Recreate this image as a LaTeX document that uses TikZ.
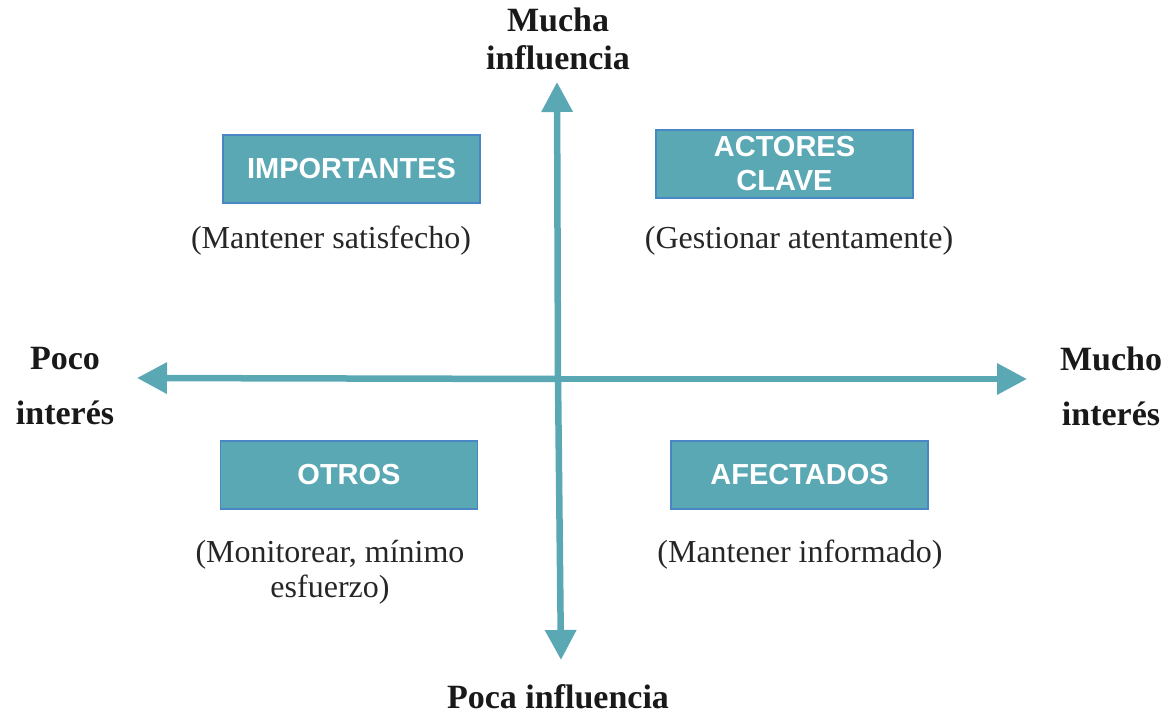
\documentclass[tikz,border=0pt]{standalone}
\usepackage{fontspec}
\setmainfont{Liberation Serif}
\newfontfamily\boxfont{Liberation Sans}
\usetikzlibrary{arrows.meta}
\definecolor{teal}{HTML}{5BA8B5}
\definecolor{edge}{HTML}{4A86C5}
\begin{document}
\begin{tikzpicture}[x=1pt,y=-1pt,
  quad/.style={draw=edge,line width=1.5pt,fill=teal,minimum width=257pt,minimum height=68pt,
    text=white,font=\boxfont\bfseries\fontsize{29}{34}\selectfont,align=center,inner sep=0pt},
  note/.style={font=\fontsize{32}{35}\selectfont,align=center,text=black!85},
  axlab/.style={font=\bfseries\fontsize{34}{38}\selectfont,align=center,text=black!90},
  axis/.style={draw=teal,line width=6.5pt,-{Triangle[length=30pt,width=30pt]}}]
\useasboundingbox (0,0) rectangle (1172,714);
\coordinate (c) at (558,379);
\coordinate (top) at (557,82);
\coordinate (bot) at (561,660);
\coordinate (lft) at (137,378);
\coordinate (rgt) at (1027,379);
\draw[axis] (c) -- (top);
\draw[axis] (c) -- (bot);
\draw[axis] (c) -- (lft);
\draw[axis] (c) -- (rgt);
\node[quad] (imp) at (351.5,169) {IMPORTANTES};
\node[quad] (act) at (784.5,164) {ACTORES\\CLAVE};
\node[quad] (otr) at (349,475) {OTROS};
\node[quad] (afe) at (799.5,475) {AFECTADOS};
\node[note] (n1) at (331,241) {(Mantener satisfecho)};
\node[note] (n2) at (799,241) {(Gestionar atentamente)};
\node[note] (n3) at (330,572) {(Monitorear, mínimo\\esfuerzo)};
\node[note] (n4) at (800,555) {(Mantener informado)};
\node[axlab] (l1) at (558,39) {Mucha\\influencia};
\node[axlab] (l2) at (65,386) {Poco\\[17pt]interés};
\node[axlab] (l3) at (1111,386) {Mucho\\[17pt]interés};
\node[axlab] (l4) at (558,697) {Poca influencia};
\end{tikzpicture}
\end{document}
